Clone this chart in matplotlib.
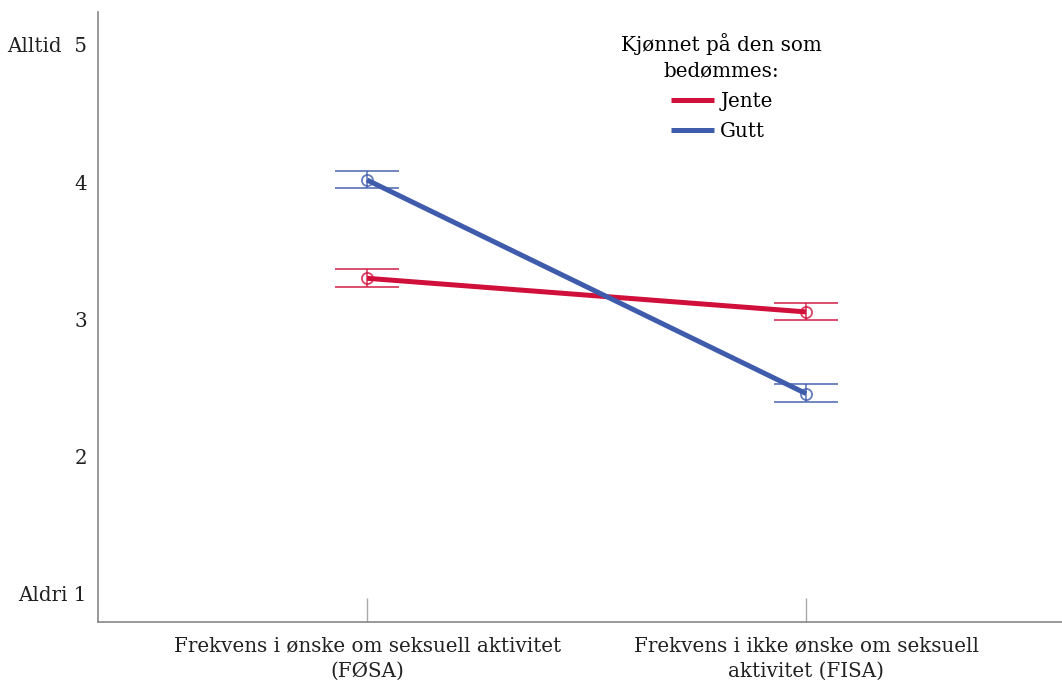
import matplotlib
matplotlib.use("Agg")
import matplotlib.pyplot as plt
import numpy as np

categories = ["Frekvens i ønske om seksuell aktivitet\n(FØSA)",
              "Frekvens i ikke ønske om seksuell\naktivitet (FISA)"]
series_names = ["Jente", "Gutt"]
jente_mean = [3.30, 3.055]
jente_lo = [3.24, 2.995]
jente_hi = [3.37, 3.12]
gutt_mean = [4.016, 2.46]
gutt_lo = [3.96, 2.40]
gutt_hi = [4.08, 2.53]
ytick_vals = [1, 2, 3, 4, 5]
ytick_labels = ["Aldri 1", "2", "3", "4", "Alltid  5"]
colors = ["#d0103a", "#3f5bab"]

plt.rcParams['font.family'] = ['DejaVu Serif', 'Liberation Serif']

fig = plt.figure(figsize=(10.62, 6.88), dpi=100)
ax = fig.add_axes([98/1062, 66/688, (1062-98)/1062, (622-12)/688])

x = np.arange(len(categories))
for name, m, lo, hi, c in [(series_names[0], jente_mean, jente_lo, jente_hi, colors[0]),
                           (series_names[1], gutt_mean, gutt_lo, gutt_hi, colors[1])]:
    ax.plot(x, m, color=c, lw=3.6, label=name, zorder=3, solid_capstyle='butt')
    m = np.array(m); lo = np.array(lo); hi = np.array(hi)
    ax.errorbar(x, m, yerr=[m - lo, hi - m], fmt='o', mfc='none', mec=c, ms=8,
                mew=1.3, ecolor=c, elinewidth=1.2, capsize=23, capthick=2.0,
                alpha=0.8, zorder=2)

ax.set_xlim(-0.613, 1.583)
ax.set_ylim(0.796, 5.24)
ax.set_xticks(x)
ax.set_xticklabels(categories, fontsize=14.3, color="#222222", linespacing=1.45)
ax.set_yticks(ytick_vals)
ax.set_yticklabels(ytick_labels, fontsize=14.3, color="#222222")
ax.tick_params(axis='x', direction='in', length=17, color='#aaaaaa', width=1, pad=10)
ax.tick_params(axis='y', length=0, pad=8)
for s in ['top', 'right']:
    ax.spines[s].set_visible(False)
for s in ['left', 'bottom']:
    ax.spines[s].set_color('#888888')
    ax.spines[s].set_linewidth(1.2)

leg = ax.legend(title="Kjønnet på den som\nbedømmes:", loc='upper center',
                bbox_to_anchor=(0.647, 0.995), frameon=False, fontsize=14.3,
                title_fontsize=14.3, handlelength=2.2, handletextpad=0.3,
                labelspacing=0.55)
leg._legend_box.align = "center"
leg.get_title().set_multialignment('center')
leg.get_title().set_linespacing(1.45)

fig.savefig("out.png", dpi=100)
